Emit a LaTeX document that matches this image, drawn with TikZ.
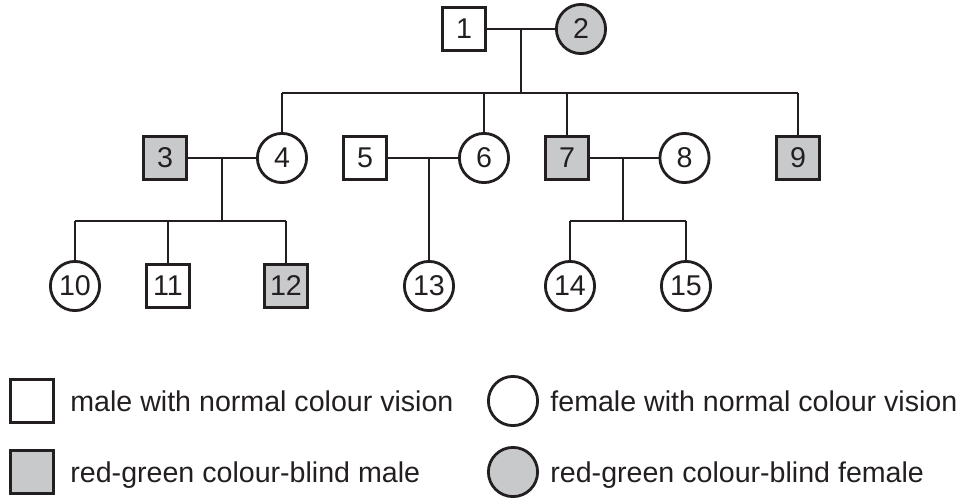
\documentclass[tikz,border=0pt]{standalone}
\usepackage{fontspec}
\setmainfont{Liberation Sans}
\definecolor{ink}{HTML}{231F20}
\definecolor{affgray}{HTML}{C8C9CB}
\begin{document}
\begin{tikzpicture}[x=0.5pt,y=-0.5pt,
  every node/.style={font=\fontsize{14.3}{17}\selectfont, text=ink},
  base/.style={draw=ink, line width=1.4pt, inner sep=0pt, fill=white},
  male/.style={base, rectangle, minimum size=21.6pt},
  female/.style={base, circle, minimum size=24.6pt},
  affected/.style={fill=affgray},
  link/.style={draw=ink, line width=1.4pt},
  legtext/.style={anchor=base west, inner sep=0pt}]
\useasboundingbox (0,0) rectangle (971,499);

% generation I
\node[male] (n1) at (464,29) {1};
\node[female, affected] (n2) at (581,29) {2};
% generation II
\node[male, affected] (n3) at (165,158) {3};
\node[female] (n4) at (282,158) {4};
\node[male] (n5) at (365,158) {5};
\node[female] (n6) at (484,158) {6};
\node[male, affected] (n7) at (567,158) {7};
\node[female] (n8) at (684.5,158) {8};
\node[male, affected] (n9) at (798,158) {9};
% generation III
\node[female] (n10) at (75,286) {10};
\node[male] (n11) at (168,286) {11};
\node[male, affected] (n12) at (286,286) {12};
\node[female] (n13) at (429,286) {13};
\node[female] (n14) at (570,286) {14};
\node[female] (n15) at (686,286) {15};

% junctions
\coordinate (m12) at (521,29);
\coordinate (s12) at (521,93);
\coordinate (m34) at (222,158);
\coordinate (s34) at (222,221);
\coordinate (m56) at (429,158);
\coordinate (m78) at (623,158);
\coordinate (s78) at (623,221);

% family 1-2
\draw[link] (n1.east) -- (n2.west);
\draw[link] (m12) -- (s12);
\draw[link] (n4.north |- s12) -- (n9.north |- s12);
\draw[link] (n4.north |- s12) -- (n4.north);
\draw[link] (n6.north |- s12) -- (n6.north);
\draw[link] (n7.north |- s12) -- (n7.north);
\draw[link] (n9.north |- s12) -- (n9.north);

% family 3-4
\draw[link] (n3.east) -- (n4.west);
\draw[link] (m34) -- (s34);
\draw[link] (n10.north |- s34) -- (n12.north |- s34);
\draw[link] (n10.north |- s34) -- (n10.north);
\draw[link] (n11.north |- s34) -- (n11.north);
\draw[link] (n12.north |- s34) -- (n12.north);

% family 5-6
\draw[link] (n5.east) -- (n6.west);
\draw[link] (m56) -- (n13.north);

% family 7-8
\draw[link] (n7.east) -- (n8.west);
\draw[link] (m78) -- (s78);
\draw[link] (n14.north |- s78) -- (n15.north |- s78);
\draw[link] (n14.north |- s78) -- (n14.north);
\draw[link] (n15.north |- s78) -- (n15.north);

% legend
\node[male] (k1) at (32,401) {};
\node[legtext] (t1) at (70,411.5) {male with normal colour vision};
\node[male, affected] (k2) at (32,472) {};
\node[legtext] (t2) at (70,482.5) {red-green colour-blind male};
\node[female] (k3) at (513,401) {};
\node[legtext] (t3) at (550,411.5) {female with normal colour vision};
\node[female, affected] (k4) at (513,472) {};
\node[legtext] (t4) at (550,482.5) {red-green colour-blind female};
\end{tikzpicture}
\end{document}
